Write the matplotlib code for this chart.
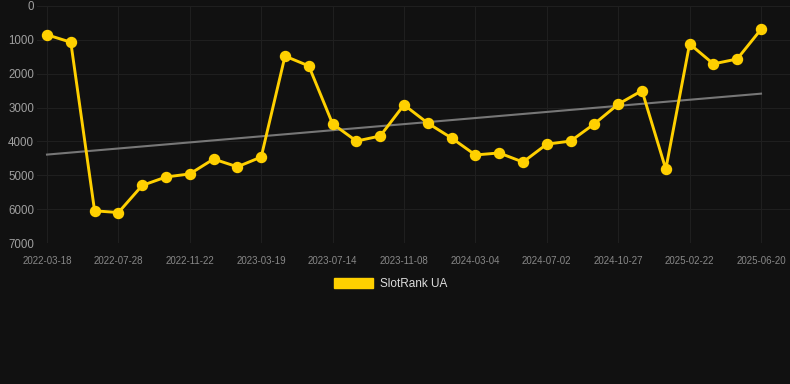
import numpy as np
import matplotlib.pyplot as plt
from matplotlib.patches import Patch

# SlotRank UA rank history (lower = better, axis inverted)
dates = ["2022-03-18", "2022-05-01", "2022-06-14", "2022-07-28", "2022-09-05",
         "2022-10-14", "2022-11-22", "2023-01-01", "2023-02-08", "2023-03-19",
         "2023-04-27", "2023-06-05", "2023-07-14", "2023-08-22", "2023-09-30",
         "2023-11-08", "2023-12-17", "2024-01-25", "2024-03-04", "2024-04-12",
         "2024-05-21", "2024-07-02", "2024-08-10", "2024-09-18", "2024-10-27",
         "2024-12-05", "2025-01-13", "2025-02-22", "2025-04-02", "2025-05-11",
         "2025-06-20"]
rank = [850, 1070, 6050, 6100, 5300, 5050, 4960, 4520, 4750, 4460,
        1480, 1770, 3480, 3990, 3840, 2920, 3460, 3900, 4400, 4340,
        4610, 4080, 3990, 3480, 2900, 2500, 4820, 1120, 1710, 1565,
        690]
y_ticks = [0, 1000, 2000, 3000, 4000, 5000, 6000, 7000]

BG = "#111111"
YELLOW = "#FFD000"

plt.rcParams["font.family"] = ["Liberation Sans", "DejaVu Sans"]

fig = plt.figure(figsize=(7.9, 3.84), dpi=100, facecolor=BG)
ax = fig.add_axes([37 / 790, 1 - 243 / 384, (790 - 37) / 790, (243 - 6) / 384])
ax.set_facecolor(BG)

x = np.arange(len(rank))

# linear trend
coef = np.polyfit(x, rank, 1)
ax.plot(x, np.polyval(coef, x), color="#777777", lw=1.5, zorder=2)

ax.plot(x, rank, color=YELLOW, lw=2.1, marker="o", markersize=7.2,
        zorder=3, clip_on=False)

ax.set_ylim(7000, 0)
ax.set_xlim(-10 / 23.8, (790 - 47) / 23.8)
ax.set_yticks(y_ticks)
ax.set_yticklabels([str(v) for v in y_ticks])
ax.set_xticks(x[::3])
ax.set_xticklabels(dates[::3])

ax.grid(True, color="#1f1f1f", lw=0.8)
ax.set_axisbelow(True)
for s in ax.spines.values():
    s.set_visible(False)
ax.tick_params(axis="y", length=0, pad=2, labelsize=8.3, labelcolor="#a0a0a0")
ax.tick_params(axis="x", length=0, pad=9, labelsize=7, labelcolor="#888888")

leg = fig.legend(handles=[Patch(facecolor=YELLOW, edgecolor=YELLOW)],
                 labels=["SlotRank UA"], loc="center",
                 bbox_to_anchor=(0.494, 1 - 284 / 384), frameon=False,
                 fontsize=8.5, handlelength=3.3, handleheight=0.85,
                 handletextpad=0.6, labelcolor="#dddddd")

fig.savefig("out.png", dpi=100, facecolor=BG)
